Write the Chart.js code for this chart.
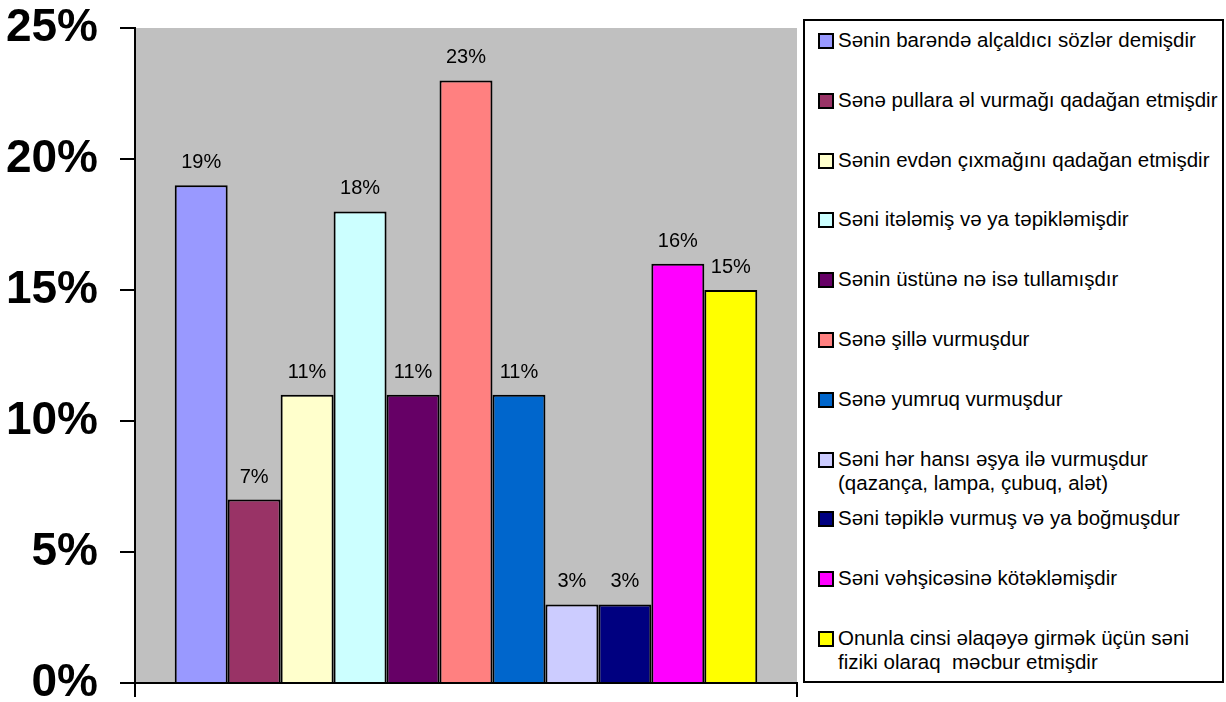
<!DOCTYPE html>
<html lang="az">
<head>
    <meta charset="UTF-8">
    <title>Zorakılıq növləri</title>
    <style>
        body {
            margin: 0;
            background-color: #ffffff;
            font-family: Arial, 'Liberation Sans', sans-serif;
        }

        .chart-container {
            position: absolute;
            left: 0;
            top: 0;
            width: 800px;
            height: 702px;
        }

        .legend-box {
            position: absolute;
            left: 803px;
            top: 19px;
            width: 417px;
            height: 660px;
            border: 2px solid #000;
        }

        .legend-item {
            position: absolute;
            left: 13px;
            font-size: 20.5px;
            line-height: 24px;
            color: #000;
            white-space: pre-wrap;
            padding-left: 20px;
        }

        .legend-swatch {
            position: absolute;
            left: 0;
            top: 5px;
            width: 12px;
            height: 12px;
            border: 2px solid #000;
        }
    </style>
</head>
<body>
    <div class="chart-container">
        <canvas id="barChart"></canvas>
    </div>
    <div class="legend-box" id="legend"></div>

    <script src="https://cdn.jsdelivr.net/npm/chart.js"></script>
    <script>
        const seriesNames = [
            'Sənin barəndə alçaldıcı sözlər demişdir',
            'Sənə pullara əl vurmağı qadağan etmişdir',
            'Sənin evdən çıxmağını qadağan etmişdir',
            'Səni itələmiş və ya təpikləmişdir',
            'Sənin üstünə nə isə tullamışdır',
            'Sənə şillə vurmuşdur',
            'Sənə yumruq vurmuşdur',
            'Səni hər hansı əşya ilə vurmuşdur\n(qazança, lampa, çubuq, alət)',
            'Səni təpiklə vurmuş və ya boğmuşdur',
            'Səni vəhşicəsinə kötəkləmişdir',
            'Onunla cinsi əlaqəyə girmək üçün səni\nfiziki olaraq  məcbur etmişdir'
        ];
        const seriesValues = [19, 7, 11, 18, 11, 23, 11, 3, 3, 16, 15];
        const seriesColors = [
            '#9999FF', '#993366', '#FFFFCC', '#CCFFFF', '#660066', '#FF8080',
            '#0066CC', '#CCCCFF', '#000080', '#FF00FF', '#FFFF00'
        ];
        const yTicks = [0, 5, 10, 15, 20, 25];

        // grey plot area like the old Excel charts
        const plotBackground = {
            id: 'plotBackground',
            beforeDraw(chart) {
                const { ctx, chartArea } = chart;
                ctx.save();
                ctx.fillStyle = '#C0C0C0';
                ctx.fillRect(chartArea.left, chartArea.top, chartArea.right - chartArea.left, chartArea.bottom - chartArea.top);
                ctx.restore();
            }
        };

        // value labels above each bar
        const valueLabels = {
            id: 'valueLabels',
            afterDatasetsDraw(chart) {
                const ctx = chart.ctx;
                ctx.save();
                ctx.font = '20px Arial, "Liberation Sans", sans-serif';
                ctx.fillStyle = '#000';
                ctx.textAlign = 'center';
                ctx.textBaseline = 'alphabetic';
                chart.data.datasets.forEach((ds, i) => {
                    const bar = chart.getDatasetMeta(i).data[0];
                    ctx.fillText(ds.data[0] + '%', bar.x, bar.y - 17);
                });
                ctx.restore();
            }
        };

        const datasets = seriesNames.map((name, i) => ({
            label: name,
            data: [seriesValues[i]],
            backgroundColor: seriesColors[i],
            borderColor: '#000',
            borderWidth: 2,
            categoryPercentage: 0.88,
            barPercentage: 1
        }));

        const ctx = document.getElementById('barChart').getContext('2d');
        const chart = new Chart(ctx, {
            type: 'bar',
            data: {
                labels: [''],
                datasets: datasets
            },
            options: {
                responsive: true,
                maintainAspectRatio: false,
                animation: false,
                layout: {
                    padding: { top: 28, right: 3, bottom: 0, left: 0 }
                },
                plugins: {
                    legend: { display: false },
                    tooltip: { enabled: false }
                },
                scales: {
                    x: {
                        afterFit: (scale) => {
                            scale.height = 19;
                            scale.paddingLeft = 0;
                            scale.paddingRight = 0;
                        },
                        border: { color: '#000', width: 2 },
                        grid: {
                            drawOnChartArea: false,
                            color: '#000',
                            lineWidth: 2,
                            tickLength: 14
                        },
                        ticks: { display: false }
                    },
                    y: {
                        min: yTicks[0],
                        max: yTicks[yTicks.length - 1],
                        afterFit: (scale) => {
                            scale.width = 135;
                            scale.paddingTop = 0;
                            scale.paddingBottom = 0;
                        },
                        afterBuildTicks: (scale) => {
                            scale.ticks = yTicks.map(v => ({ value: v }));
                        },
                        border: { color: '#000', width: 2 },
                        grid: {
                            drawOnChartArea: false,
                            color: '#000',
                            lineWidth: 2,
                            tickLength: 15
                        },
                        ticks: {
                            padding: 22,
                            color: '#000',
                            font: { family: 'Arial, "Liberation Sans", sans-serif', size: 46, weight: 'bold' },
                            callback: function(value) {
                                return value + '%';
                            }
                        }
                    }
                }
            },
            plugins: [plotBackground, valueLabels]
        });

        // legend built from the datasets
        const legendEl = document.getElementById('legend');
        chart.data.datasets.forEach((ds, i) => {
            const item = document.createElement('div');
            item.className = 'legend-item';
            item.style.top = (40 + 59.8 * i - 19 - 2 - 12) + 'px';
            const swatch = document.createElement('span');
            swatch.className = 'legend-swatch';
            swatch.style.backgroundColor = ds.backgroundColor;
            item.appendChild(swatch);
            item.appendChild(document.createTextNode(ds.label));
            legendEl.appendChild(item);
        });
    </script>
</body>
</html>
